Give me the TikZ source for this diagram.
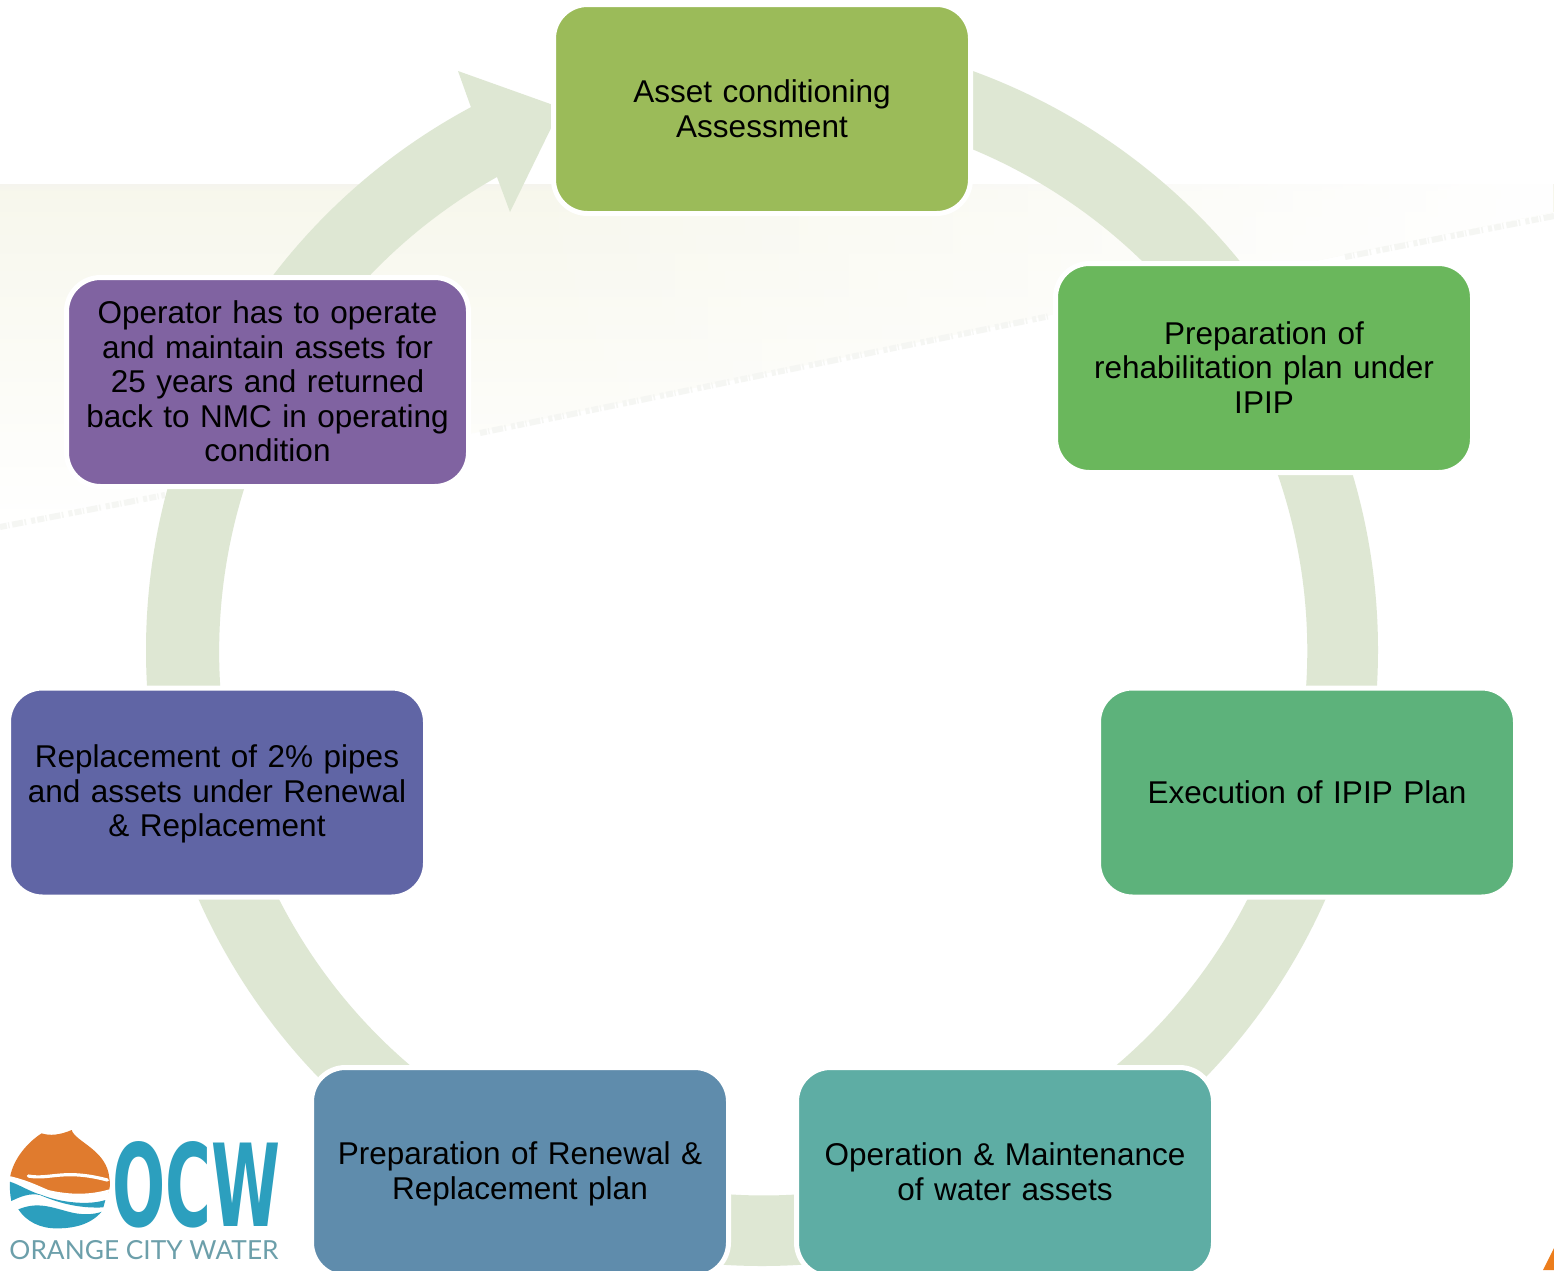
\documentclass[tikz,border=0pt]{standalone}
\usepackage{fontspec}
\setmainfont{Liberation Sans}
\newfontfamily\logofont{Lato}
\newfontfamily\ocwfont{DejaVu Sans}
\usetikzlibrary{fadings}
\newcommand{\lnstrut}{\rule[-2.25pt]{0pt}{15.25pt}}
\definecolor{ringc}{HTML}{DEE7D3}
\definecolor{cAsset}{HTML}{9BBB59}
\definecolor{cPrep}{HTML}{6AB75C}
\definecolor{cExec}{HTML}{5DB27B}
\definecolor{cOper}{HTML}{5EADA4}
\definecolor{cRenew}{HTML}{5F8CAC}
\definecolor{cRepl}{HTML}{6065A5}
\definecolor{cOpor}{HTML}{8063A1}
\definecolor{lOrange}{HTML}{E07B2E}
\definecolor{lBlue}{HTML}{2C9FBE}
\definecolor{lGrey}{HTML}{6C9FAA}
\definecolor{bandc}{HTML}{F7F7EC}
\definecolor{bandtop}{HTML}{F5F4EE}
\definecolor{streak}{HTML}{F5F6F3}
\tikzset{
  stepbox/.style={rounded corners=17pt,draw=white,line width=2.5pt,outer sep=0pt,inner sep=0pt,
    minimum width=208.5pt,minimum height=104.5pt,
    text=black,align=center,font=\fontsize{15.75}{17.3}\selectfont,text width=204pt},
  narrowbox/.style={stepbox,minimum width=201pt,text width=190pt},
  streakline/.style={draw=streak,line width=3pt,dash pattern=on 3.5pt off 0.7pt on 0.6pt off 1.4pt on 5.5pt off 0.8pt on 0.8pt off 2.6pt on 2pt off 1.1pt},
}
\begin{document}
\begin{tikzpicture}[x=0.5pt,y=-0.5pt]
\useasboundingbox[fill=white] (0,0) rectangle (1554,1270);
% pale background band
\begin{scope}
\clip (0,184) -- (1554,184) -- (1554,212) -- (0,530) -- cycle;
\shade[top color=bandc,bottom color=white] (0,190) rectangle (1554,530);
\shade[top color=bandtop,bottom color=bandc] (0,184) rectangle (1554,192);
\fill[white,path fading=west] (500,184) rectangle (1554,530);
\end{scope}
\draw[streakline] (0,527) -- (165,495);
\draw[streakline] (480,433) -- (1050,316);
\draw[streakline] (1345,257) -- (1554,216);
% ring with its arrow head
\fill[ringc] (762,34) arc[start angle=90,end angle=-241.8,radius=308pt]
  -- (458,71) -- (556,106) -- (556,118) -- (510,212)
  -- (497,177) arc[start angle=-240.7,end angle=90,radius=272pt] -- cycle;
% boxes
\node[stepbox,fill=cAsset] (asset) at (762,109) {\lnstrut Asset conditioning\\Assessment\lnstrut};
\node[stepbox,fill=cPrep] (prep) at (1264,368) {\lnstrut Preparation of\\rehabilitation plan under\\IPIP\lnstrut};
\node[stepbox,fill=cExec] (exec) at (1307,792.5) {\lnstrut Execution of IPIP Plan};
\node[stepbox,fill=cOper] (oper) at (1005,1172) {\lnstrut Operation \& Maintenance\\of water assets\lnstrut};
\node[stepbox,fill=cRenew] (renew) at (520,1172) {\lnstrut Preparation of Renewal \&\\Replacement plan\lnstrut};
\node[stepbox,fill=cRepl] (repl) at (217,792.5) {\lnstrut Replacement of 2\% pipes\\and assets under Renewal\\\& Replacement\lnstrut};
\node[narrowbox,fill=cOpor] (opor) at (267.5,382) {\lnstrut Operator has to operate\\and maintain assets for\\25 years and returned\\back to NMC in operating\\condition\lnstrut};
% logo
\begin{scope}[shift={(0,1100)},x=0.1667pt,y=-0.1667pt]
\fill[lOrange] (30,232) .. controls (40,175) and (85,125) .. (125,100) .. controls (150,108) and (180,105) .. (215,90)
  .. controls (225,125) and (322,150) .. (328,235) .. controls (332,255) and (330,270) .. (318,290)
  -- (60,300) .. controls (40,280) and (32,255) .. (30,232) -- cycle;
\draw[white,line width=1.6pt,line cap=round] (85,228) .. controls (150,240) and (190,205) .. (322,240);
\fill[white] (28,228) .. controls (80,240) and (110,255) .. (145,270) .. controls (210,285) and (270,285) .. (328,268)
  -- (312,330) -- (60,330) -- (30,300) -- cycle;
\fill[lBlue] (30,245) .. controls (60,255) and (90,275) .. (125,285) .. controls (190,310) and (270,315) .. (316,300)
  -- (310,322) .. controls (250,325) and (190,315) .. (120,285) .. controls (90,278) and (60,290) .. (34,303) .. controls (30,285) and (29,265) .. (30,245) -- cycle;
\fill[lBlue] (55,328) .. controls (110,305) and (150,320) .. (205,335) .. controls (240,345) and (280,345) .. (305,335)
  .. controls (270,375) and (220,385) .. (170,385) .. controls (120,385) and (80,365) .. (55,328) -- cycle;
\end{scope}
\node[inner sep=0pt,outer sep=0pt,text=lBlue] (ocw) at (196.5,1184.5) {\resizebox{84pt}{42.5pt}{\ocwfont\bfseries OCW}};
\node[inner sep=0pt,outer sep=0pt,text=lGrey] (ocwname) at (144,1250.5) {\resizebox{134.5pt}{!}{\logofont ORANGE CITY WATER}};
% corner mark
\fill[lOrange!60!orange] (1554,1248) -- (1554,1270) -- (1543,1270) -- cycle;
\end{tikzpicture}
\end{document}
